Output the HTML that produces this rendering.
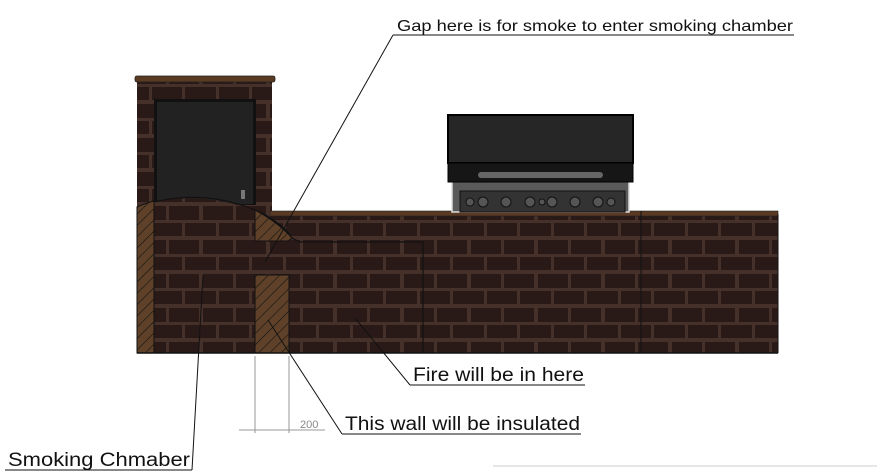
<!DOCTYPE html>
<html><head><meta charset="utf-8"><style>
html,body{margin:0;padding:0;background:#fff;width:877px;height:474px;overflow:hidden}
svg{display:block}
text{font-family:"Liberation Sans",sans-serif;fill:#111}
</style></head><body>
<svg width="877" height="474" viewBox="0 0 877 474" xmlns="http://www.w3.org/2000/svg">
<defs>
<pattern id="brick" x="0" y="0" width="67" height="34" patternUnits="userSpaceOnUse">
<rect width="67" height="34" fill="#45302a"/>
<rect x="2" y="2" width="30" height="14" fill="#2a1a17"/>
<rect x="35" y="2" width="30" height="14" fill="#2a1a17"/>
<rect x="-15" y="19" width="30" height="13" fill="#2a1a17"/>
<rect x="18" y="19" width="30" height="13" fill="#2a1a17"/>
<rect x="51" y="19" width="30" height="13" fill="#2a1a17"/>
</pattern>
<pattern id="hatch" width="8" height="8" patternUnits="userSpaceOnUse" patternTransform="rotate(45)">
<rect width="8" height="8" fill="#5e4128"/>
<line x1="0" y1="0" x2="0" y2="8" stroke="#111" stroke-width="1.2"/>
</pattern>
</defs>
<rect x="137" y="81" width="135" height="135" fill="url(#brick)"/>
<rect x="135" y="76" width="140" height="6" rx="2" fill="#5a3a22" stroke="#222" stroke-width="0.8"/>
<rect x="154" y="99" width="102" height="108" fill="#111"/>
<rect x="157" y="102" width="96" height="102" fill="#222"/>
<rect x="241" y="190" width="4" height="9" fill="#777"/>
<rect x="137" y="215" width="641" height="138" fill="url(#brick)"/>
<rect x="137" y="205" width="135" height="12" fill="url(#brick)"/>
<rect x="270" y="211" width="508" height="5" fill="#5a3a22" stroke="#222" stroke-width="0.6"/>
<line x1="641" y1="211" x2="641" y2="353" stroke="#111" stroke-width="1"/>
<line x1="778" y1="214" x2="778" y2="353" stroke="#111" stroke-width="1"/>
<path d="M137 207 Q190 188 255 210 L137 210 Z" fill="url(#brick)"/>
<path d="M137 207 Q200 185 262 213 Q285 226 292 238 L300 242 L423 242 L423 353" fill="none" stroke="#111" stroke-width="1.2"/>
<path d="M137 207 Q146 203 154 201 L154 353 L137 353 Z" fill="url(#hatch)" stroke="#111" stroke-width="1"/>
<path d="M255 210 Q278 222 292 238 L288 241 L255 241 Z" fill="url(#hatch)" stroke="#111" stroke-width="1"/>
<rect x="255" y="275" width="34" height="78" fill="url(#hatch)" stroke="#111" stroke-width="1"/>
<line x1="137" y1="353" x2="778" y2="353" stroke="#111" stroke-width="1.5"/>
<line x1="137" y1="207" x2="137" y2="353" stroke="#111" stroke-width="1"/>
<rect x="452" y="181" width="177" height="31" fill="#5a5a5a" stroke="#ddd" stroke-width="1.5"/>
<rect x="448" y="115" width="185" height="48" fill="#262626" stroke="#000" stroke-width="2"/>
<rect x="448" y="163" width="185" height="19" fill="#161616" stroke="#000" stroke-width="1"/>
<rect x="478" y="172" width="125" height="6" rx="3" fill="#666"/>
<rect x="460" y="191" width="165" height="21" fill="#333" stroke="#111" stroke-width="1"/>
<g fill="#555" stroke="#111" stroke-width="1">
<circle cx="470" cy="202" r="4"/><circle cx="483" cy="202" r="5"/><circle cx="506" cy="202" r="5"/>
<circle cx="530" cy="202" r="5"/><circle cx="542" cy="202" r="3"/><circle cx="552" cy="202" r="5"/>
<circle cx="575" cy="202" r="5"/><circle cx="598" cy="202" r="5"/><circle cx="611" cy="202" r="4"/>
</g>
<g stroke="#111" stroke-width="1" fill="none">
<line x1="393" y1="35" x2="794" y2="35"/><line x1="393" y1="35" x2="265" y2="262"/>
<line x1="410" y1="385" x2="585" y2="385"/><line x1="410" y1="385" x2="355" y2="318"/>
<line x1="342" y1="434" x2="581" y2="434"/><line x1="342" y1="434" x2="268" y2="320"/>
<line x1="5" y1="470" x2="192" y2="470"/><line x1="192" y1="470" x2="203" y2="275"/>
</g>
<g stroke="#999" stroke-width="1">
<line x1="255" y1="356" x2="255" y2="433"/><line x1="289" y1="356" x2="289" y2="433"/>
<line x1="239" y1="430" x2="325" y2="430"/>
</g>
<text x="300" y="428" font-size="11" style="fill:#888">200</text>
<text x="397" y="31" font-size="16" textLength="396" lengthAdjust="spacingAndGlyphs">Gap here is for smoke to enter smoking chamber</text>
<text x="413" y="381" font-size="19" textLength="171" lengthAdjust="spacingAndGlyphs">Fire will be in here</text>
<text x="345" y="430" font-size="19" textLength="235" lengthAdjust="spacingAndGlyphs">This wall will be insulated</text>
<text x="8" y="466" font-size="19" textLength="182" lengthAdjust="spacingAndGlyphs">Smoking Chmaber</text>
<line x1="493" y1="466" x2="877" y2="466" stroke="#ccc" stroke-width="1"/>
</svg>
</body></html>
